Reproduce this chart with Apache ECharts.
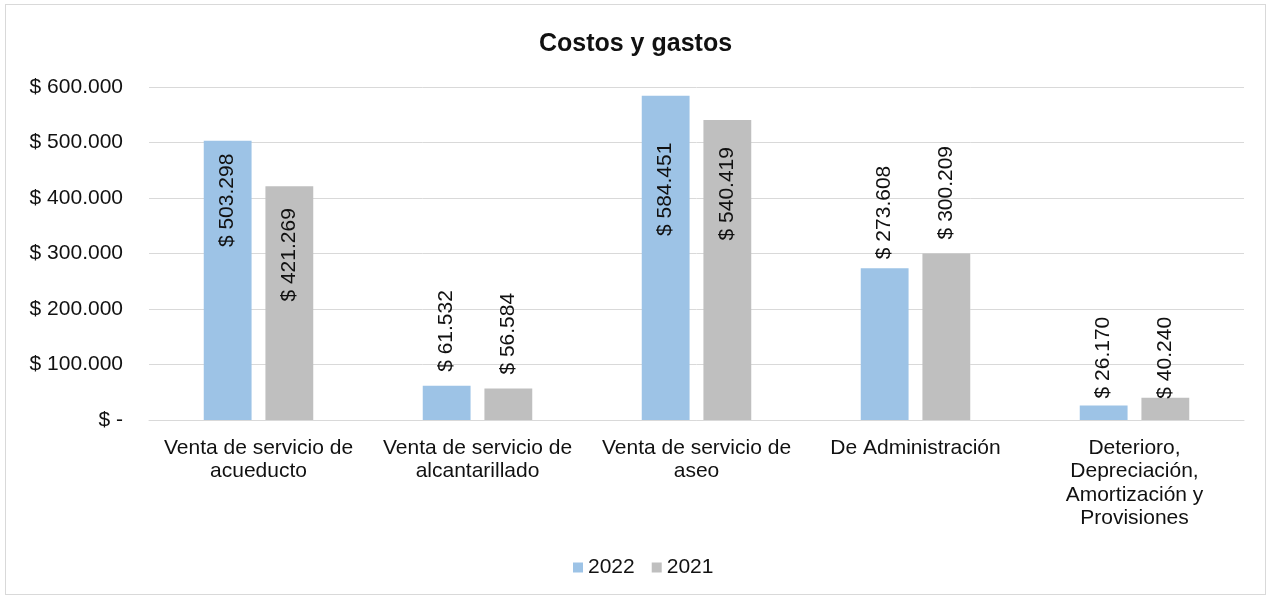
<!DOCTYPE html>
<html>
<head>
<meta charset="utf-8">
<script src="https://cdn.jsdelivr.net/npm/echarts@6/dist/echarts.min.js"></script>
<style>
    html, body { margin:0; padding:0; background:#fff; }
    #box { position:absolute; left:5px; top:4px; width:1259px; height:589px; border:1px solid #d9d9d9; }
    #chart { width:100%; height:100%; }
</style>
</head>
<body>
<div id="box"><div id="chart"></div></div>
<script>
let categories = [
    'Venta de servicio de\nacueducto',
    'Venta de servicio de\nalcantarillado',
    'Venta de servicio de\naseo',
    'De Administración',
    'Deterioro,\nDepreciación,\nAmortización y\nProvisiones'
];
let values2022 = [503298, 61532, 584451, 273608, 26170];
let values2021 = [421269, 56584, 540419, 300209, 40240];

// label placement, as hand-placed in the original: inside the top of tall bars, above short ones
// (offset runs along the rotated text, positive = up on screen)
let labelPlace2022 = [['in', -8], ['out', 9], ['in', -42], ['out', 4], ['out', 2]];
let labelPlace2021 = [['in', -17], ['out', 9], ['in', -22], ['out', 9], ['out', -6]];

function money(v){
    if ( v === 0 ) return '$ -';
    return '$ ' + String(Math.round(v)).replace(/\B(?=(\d{3})+(?!\d))/g, '.');
}

function buildData(values, place){
    return values.map((v, i) => ({
        value: v,
        label: place[i][0] === 'in'
            ? { position:'insideTop', align:'right', offset:[place[i][1], 0] }
            : { position:'top', align:'left', offset:[place[i][1], 0] }
    }));
}

let labelBase = {
    show: true,
    rotate: 90,
    verticalAlign: 'middle',
    color: '#111',
    fontSize: 21,
    fontFamily: 'Liberation Sans, Arial, sans-serif',
    formatter: (p) => money(p.value)
};

let myChart = echarts.init(document.getElementById('chart'));
let option = {
    textStyle: { fontFamily:'Liberation Sans, Arial, sans-serif' },
    title: {
        text: 'Costos y gastos',
        left: 'center',
        top: 22,
        textStyle: { fontSize:25, fontWeight:'bold', color:'#111' }
    },
    legend: {
        bottom: 11,
        left: 562,
        data: ['2022', '2021'],
        icon: 'rect',
        itemWidth: 10,
        itemHeight: 10,
        itemGap: 17,
        textStyle: { fontSize:21, color:'#111' },
        selectedMode: false
    },
    grid: {
        left: 143,
        right: 21,
        top: 82,
        bottom: 174
    },
    xAxis: {
        type: 'category',
        data: categories,
        axisLine: { lineStyle:{ color:'#d9d9d9' } },
        axisTick: { show:false },
        axisLabel: { color:'#111', fontSize:21, lineHeight:23.5, margin:16, interval:0 }
    },
    yAxis: {
        type: 'value',
        min: 0,
        max: 600000,
        interval: 100000,
        axisLine: { show:false },
        axisTick: { show:false },
        axisLabel: { color:'#111', fontSize:21, margin:26, formatter: money },
        splitLine: { lineStyle:{ color:'#d9d9d9' } }
    },
    series: [
        {
            name: '2022',
            type: 'bar',
            barGap: '29%',
            barCategoryGap: '50%',
            itemStyle: { color:'#9dc3e6' },
            label: labelBase,
            data: buildData(values2022, labelPlace2022)
        },
        {
            name: '2021',
            type: 'bar',
            itemStyle: { color:'#bfbfbf' },
            label: labelBase,
            data: buildData(values2021, labelPlace2021)
        }
    ]
};
myChart.setOption(option);
</script>
</body>
</html>
